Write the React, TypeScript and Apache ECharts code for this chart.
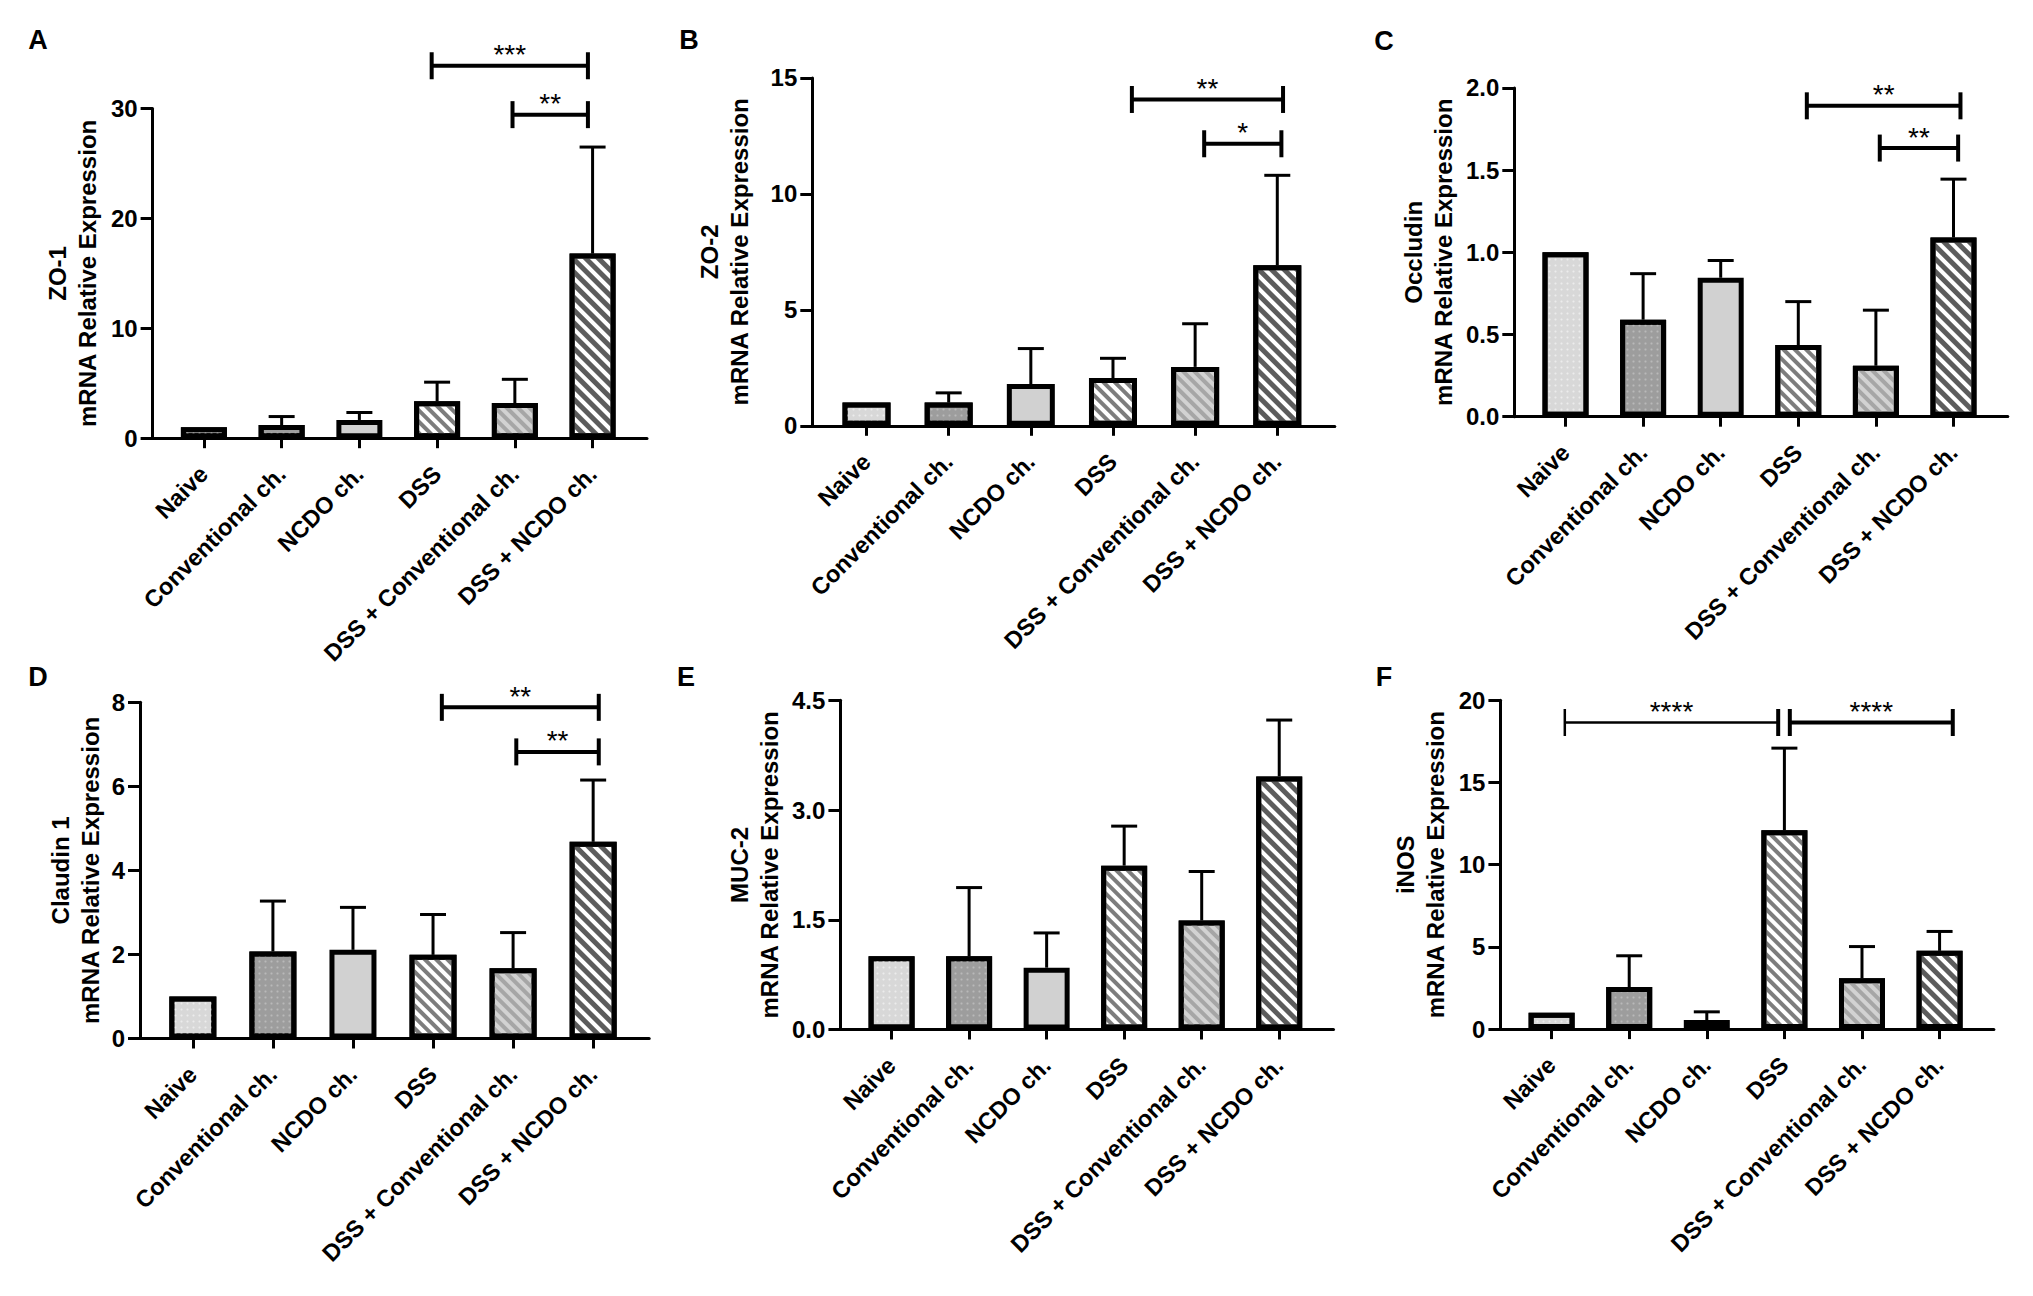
import React, { useEffect, useRef } from "react";
import * as echarts from "echarts";

const FONT = "'Liberation Sans', Arial, Helvetica, sans-serif";

const categories = ["Naive", "Conventional ch.", "NCDO ch.", "DSS", "DSS + Conventional ch.", "DSS + NCDO ch."];
const tickPositions = [0, 1, 2, 3, 4, 5];

// A: ZO-1
const zo1Mean = [1.0, 1.2, 1.66, 3.36, 3.2, 16.8];
const zo1Sd = [0, 0.77, 0.68, 1.74, 2.16, 9.7];
const zo1Ticks = [0, 10, 20, 30];
const zo1Brackets = [[2.93, 4.94, 33.9], [3.97, 4.94, 29.45]];
const zo1Stars = ["***", "**"];

// B: ZO-2
const zo2Mean = [1.0, 1.0, 1.8, 2.06, 2.54, 6.92];
const zo2Sd = [0, 0.42, 1.53, 0.85, 1.86, 3.88];
const zo2Ticks = [0, 5, 10, 15];
const zo2Brackets = [[3.23, 5.07, 14.07], [4.11, 5.05, 12.16]];
const zo2Stars = ["**", "*"];

// C: Occludin
const occMean = [1.0, 0.59, 0.845, 0.436, 0.31, 1.09];
const occSd = [0, 0.28, 0.105, 0.264, 0.338, 0.355];
const occTicks = [0, 0.5, 1.0, 1.5, 2.0];
const occBrackets = [[3.11, 5.09, 1.891], [4.05, 5.06, 1.634]];
const occStars = ["**", "**"];

// D: Claudin 1
const clMean = [1.0, 2.07, 2.11, 1.99, 1.67, 4.68];
const clSd = [0, 1.2, 1.01, 0.96, 0.85, 1.47];
const clTicks = [0, 2, 4, 6, 8];
const clBrackets = [[3.11, 5.07, 7.88], [4.04, 5.07, 6.82]];
const clStars = ["**", "**"];

// E: MUC-2
const mucMean = [1.0, 1.0, 0.845, 2.24, 1.49, 3.46];
const mucSd = [0, 0.94, 0.475, 0.54, 0.67, 0.77];
const mucTicks = [0, 1.5, 3.0, 4.5];
const mucBrackets: number[][] = [];
const mucStars: string[] = [];

// F: iNOS
const inosMean = [1.0, 2.56, 0.55, 12.09, 3.09, 4.76];
const inosSd = [0, 1.9, 0.5, 5.0, 1.93, 1.18];
const inosTicks = [0, 5, 10, 15, 20];
const inosBrackets = [[0.17, 2.92, 18.65], [3.07, 5.17, 18.65]];
const inosStars = ["****", "****"];

const panels = [
  { letter: "A", title: "ZO-1", mean: zo1Mean, sd: zo1Sd, ticks: zo1Ticks, dec: 0, brackets: zo1Brackets, stars: zo1Stars,
    layout: { left: 152.6, top: 108.6, width: 494.4, height: 329.6, nameGap: 50, barWidth: 46, lx: 38, ly: 40 }, thin: [] as number[] },
  { letter: "B", title: "ZO-2", mean: zo2Mean, sd: zo2Sd, ticks: zo2Ticks, dec: 0, brackets: zo2Brackets, stars: zo2Stars,
    layout: { left: 812.3, top: 77.9, width: 522.5, height: 347.9, nameGap: 58, barWidth: 48, lx: 689, ly: 40 }, thin: [] as number[] },
  { letter: "C", title: "Occludin", mean: occMean, sd: occSd, ticks: occTicks, dec: 1, brackets: occBrackets, stars: occStars,
    layout: { left: 1514.3, top: 87.9, width: 493.5, height: 328.8, nameGap: 56, barWidth: 46, lx: 1384, ly: 41 }, thin: [] as number[] },
  { letter: "D", title: "Claudin 1", mean: clMean, sd: clSd, ticks: clTicks, dec: 0, brackets: clBrackets, stars: clStars,
    layout: { left: 140, top: 702.3, width: 509.2, height: 336.2, nameGap: 35, barWidth: 47, lx: 38, ly: 677 }, thin: [] as number[] },
  { letter: "E", title: "MUC-2", mean: mucMean, sd: mucSd, ticks: mucTicks, dec: 1, brackets: mucBrackets, stars: mucStars,
    layout: { left: 840.4, top: 700.3, width: 493.1, height: 329.2, nameGap: 56, barWidth: 46, lx: 686, ly: 677 }, thin: [] as number[] },
  { letter: "F", title: "iNOS", mean: inosMean, sd: inosSd, ticks: inosTicks, dec: 0, brackets: inosBrackets, stars: inosStars,
    layout: { left: 1500.4, top: 700.3, width: 493.5, height: 328.8, nameGap: 50, barWidth: 46, lx: 1384, ly: 677 }, thin: [0] },
];

const X_MIN = -0.66;
const X_MAX = 5.7;

const stripe = (bg: string, fg: string, w: number, gap: number) => ({
  color: bg,
  decal: { symbol: "rect", symbolSize: 1, color: fg, dashArrayX: [1, 0], dashArrayY: [w, gap], rotation: Math.PI / 4 },
});
const dots = (bg: string, fg: string) => ({
  color: bg,
  decal: { symbol: "circle", symbolSize: 0.7, color: fg, dashArrayX: [3, 3], dashArrayY: [3, 3], rotation: 0 },
});
const fills = [
  dots("#d8d8d8", "#ececec"),
  dots("#9d9d9d", "#b9b9b9"),
  { color: "#d1d1d1" },
  stripe("#ffffff", "#7d7d7d", 4, 4),
  stripe("#d2d2d2", "#a6a6a6", 4, 4),
  stripe("#ffffff", "#5c5c5c", 4.5, 3.5),
];

function buildOption() {
  const grid: any[] = [];
  const xAxis: any[] = [];
  const yAxis: any[] = [];
  const series: any[] = [];
  const graphic: any[] = [];

  panels.forEach((p, k) => {
    const L = p.layout;
    grid.push({ left: L.left, top: L.top, width: L.width, height: L.height, containLabel: false, outerBoundsMode: "none" });
    xAxis.push({
      type: "value", gridIndex: k, min: X_MIN, max: X_MAX,
      axisLine: { show: true, onZero: false, lineStyle: { color: "#000", width: 3 } },
      axisTick: { show: true, customValues: tickPositions, length: 10, lineStyle: { color: "#000", width: 3 } },
      axisLabel: {
        show: true, customValues: tickPositions, rotate: 45, margin: 32,
        color: "#000", fontFamily: FONT, fontWeight: "bold", fontSize: 23.5,
        formatter: (v: number) => categories[Math.round(v)] ?? "",
      },
      splitLine: { show: false },
    });
    const tks = p.ticks;
    yAxis.push({
      type: "value", gridIndex: k, min: tks[0], max: tks[tks.length - 1], interval: tks[1] - tks[0],
      name: p.title + "\nmRNA Relative Expression",
      nameLocation: "middle", nameGap: L.nameGap, nameMoveOverlap: false,
      nameTextStyle: { color: "#000", fontFamily: FONT, fontWeight: "bold", fontSize: 24, lineHeight: 30, align: "center" },
      axisLine: { show: true, onZero: false, lineStyle: { color: "#000", width: 3 } },
      axisTick: { show: true, length: 12, lineStyle: { color: "#000", width: 3 } },
      axisLabel: {
        show: true, margin: 15, color: "#000", fontFamily: FONT, fontWeight: "bold", fontSize: 24,
        formatter: (v: number) => v.toFixed(p.dec),
      },
      splitLine: { show: false },
    });

    series.push({
      type: "custom", xAxisIndex: k, yAxisIndex: k, z: 1, silent: true,
      data: p.mean.map((m, i) => [i, m, m + p.sd[i]]).filter((d, i) => p.sd[i] > 0),
      encode: { x: 0, y: [1, 2] },
      renderItem: (params: any, api: any) => {
        const x = api.value(0), m = api.value(1), t = api.value(2);
        const a = api.coord([x, m]);
        const b = api.coord([x, t]);
        return {
          type: "group",
          children: [
            { type: "line", shape: { x1: a[0], y1: a[1], x2: b[0], y2: b[1] }, style: { stroke: "#000", lineWidth: 3 } },
            { type: "line", shape: { x1: b[0] - 13, y1: b[1], x2: b[0] + 13, y2: b[1] }, style: { stroke: "#000", lineWidth: 3 } },
          ],
        };
      },
    });

    series.push({
      type: "bar", xAxisIndex: k, yAxisIndex: k, z: 2, silent: true, barWidth: L.barWidth,
      itemStyle: { borderColor: "#000", borderWidth: 5 },
      data: p.mean.map((m, i) => ({ value: [i, m], itemStyle: { ...fills[i], borderColor: "#000", borderWidth: 5 } })),
    });

    if (p.brackets.length) {
      series.push({
        type: "custom", xAxisIndex: k, yAxisIndex: k, z: 3, silent: true, clip: false,
        data: p.brackets.map((b) => [b[0], b[1], b[2]]),
        encode: { x: [0, 1], y: 2 },
        renderItem: (params: any, api: any) => {
          const i = params.dataIndex;
          const a = api.coord([api.value(0), api.value(2)]);
          const b = api.coord([api.value(1), api.value(2)]);
          const thin = p.thin.indexOf(i) >= 0;
          const lw = thin ? 2.5 : 4;
          const half = 13.5;
          return {
            type: "group",
            children: [
              { type: "line", shape: { x1: a[0], y1: a[1], x2: b[0], y2: b[1] }, style: { stroke: "#000", lineWidth: lw } },
              { type: "line", shape: { x1: a[0], y1: a[1] - half, x2: a[0], y2: a[1] + half }, style: { stroke: "#000", lineWidth: lw } },
              { type: "line", shape: { x1: b[0], y1: b[1] - half, x2: b[0], y2: b[1] + half }, style: { stroke: "#000", lineWidth: 4 } },
              {
                type: "text", x: (a[0] + b[0]) / 2, y: a[1] - 11,
                style: { text: p.stars[i], fill: "#000", fontFamily: FONT, fontSize: 28, align: "center", verticalAlign: "middle" },
              },
            ],
          };
        },
      });
    }

    graphic.push({
      type: "text", x: L.lx, y: L.ly,
      style: { text: p.letter, fill: "#000", fontFamily: FONT, fontWeight: "bold", fontSize: 27, align: "center", verticalAlign: "middle" },
    });
  });

  return {
    animation: false,
    backgroundColor: "#ffffff",
    grid, xAxis, yAxis, series, graphic,
  };
}

export default function App() {
  const ref = useRef<HTMLDivElement>(null);
  useEffect(() => {
    if (!ref.current) return;
    const chart = echarts.init(ref.current, undefined, { renderer: "svg" });
    chart.setOption(buildOption() as any);
    return () => chart.dispose();
  }, []);
  return <div ref={ref} style={{ position: "absolute", left: 0, top: 0, width: 2033, height: 1296, background: "#fff" }} />;
}
